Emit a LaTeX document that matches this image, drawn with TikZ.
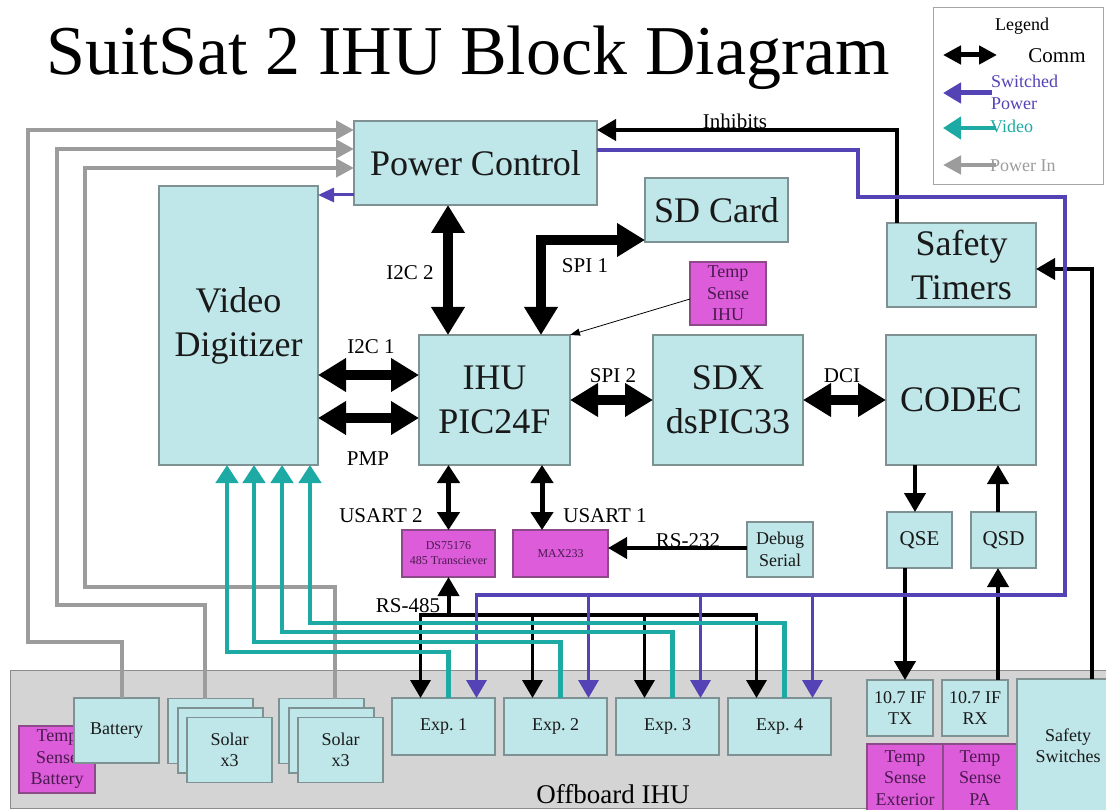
\documentclass[tikz,border=0pt]{standalone}
\usepackage{fontspec}
\setmainfont{Liberation Serif}
\usetikzlibrary{positioning, calc, arrows.meta}
\definecolor{boxfill}{HTML}{BFE6E8}
\definecolor{boxline}{HTML}{7E9294}
\definecolor{magfill}{HTML}{DC5CDA}
\definecolor{magline}{HTML}{8C4A88}
\definecolor{magtext}{HTML}{4A1A4E}
\definecolor{swpower}{HTML}{5443B5}
\definecolor{video}{HTML}{1DAAA4}
\definecolor{powerin}{HTML}{9C9C9C}
\definecolor{offboard}{HTML}{D4D4D4}
\newcommand{\fsize}[2]{\fontsize{#1}{#2}\selectfont}

\begin{document}
\begin{tikzpicture}[
    x=1pt, y=-1pt,
    wh/.style 2 args={minimum width=#1pt, minimum height=#2pt},
    block/.style={
        draw=boxline,
        fill=boxfill,
        line width=1.3pt,
        inner sep=0pt,
        outer sep=0pt,
        align=center,
        text=black!90
    },
    big/.style={block, font=\fsize{36}{44}},
    small/.style={block, font=\fsize{18}{21.5}},
    sensor/.style={small, draw=magline, fill=magfill, text=magtext},
    lbl/.style={font=\fsize{21}{24}, inner sep=0pt, anchor=base},
    lgtext/.style={font=\fsize{18}{22}, inner sep=0pt, anchor=base west},
    bigcomm/.style={line width=10pt, >={Triangle[length=28pt,width=32pt]}, <->},
    midcomm/.style={line width=5pt, >={Triangle[length=18pt,width=22pt]}, <->},
    sig/.style={line width=4pt, >={Triangle[length=19pt,width=21pt]}, ->},
    drop/.style={line width=3.5pt, >={Triangle[length=18pt,width=20pt]}, ->},
    swp/.style={drop, draw=swpower},
    vid/.style={line width=4.5pt, draw=video, >={Triangle[length=18pt,width=22pt]}, ->},
    pin/.style={line width=4.5pt, draw=powerin, >={Triangle[length=18pt,width=18pt]}, ->}
]
\fill[white] (0,0) rectangle (1106,810);
\useasboundingbox (0,0) rectangle (1106,810);

% Title and legend
\node[font=\fsize{70}{80}, anchor=base, inner sep=0pt] (title) at (468,75) {SuitSat 2 IHU Block Diagram};

\node[draw=black!35, fill=white, line width=1pt, wh={170}{177}] (legend) at (1018,96.5) {};
\node[font=\fsize{18}{22}, inner sep=0pt, anchor=base] (lgtitle) at (1022,31) {Legend};
\coordinate (lgtip) at (943,0);
\coordinate (lgcomm) at (997,55);
\coordinate (lgsw) at (992,93);
\coordinate (lgvid) at (996,128);
\coordinate (lgpin) at (996,165);
\draw[midcomm, >={Triangle[length=18pt,width=18pt]}] (lgtip |- lgcomm) -- (lgcomm);
\draw[swp, line width=5pt] (lgsw) -- (lgtip |- lgsw);
\draw[vid] (lgvid) -- (lgtip |- lgvid);
\draw[pin] (lgpin) -- (lgtip |- lgpin);
\node[font=\fsize{21}{24}, inner sep=0pt, anchor=base] (lgcommtxt) at (1057,63) {Comm};
\node[font=\fsize{18}{22}, inner sep=0pt, anchor=west, align=left, text=swpower] (lgswtxt) at (991,92) {Switched\\Power};
\node[lgtext, text=video] (lgvidtxt) at (990,133) {Video};
\node[lgtext, text=powerin] (lgpintxt) at (990,172) {Power In};

% Offboard area
\node[draw=black!45, fill=offboard, line width=1pt, wh={1110}{138}, anchor=north west] (offb) at (10,670) {};
\node[font=\fsize{27}{30}, inner sep=0pt, anchor=base] (offbtxt) at (613,803) {Offboard IHU};

\node[sensor, wh={76}{67}] (tsb) at (57,759.5) {Temp\\Sense\\Battery};
\node[small, wh={85}{65}] (bat) at (116.5,730.5) {Battery};
\foreach \n/\x in {1/210.5, 2/321.5} {
    \node[small, wh={85}{65}] (backsolar\n) at (\x,731) {};
    \node[small, wh={85}{65}] (midsolar\n) at (\x+10,740.5) {};
    \node[small, wh={85}{65}] (solar\n) at (\x+19,750) {Solar\\x3};
}
\node[small, wh={103}{57}] (exp1) at (443.5,726.5) {Exp.\ 1};
\node[small, wh={103}{57}, right=9pt of exp1] (exp2) {Exp.\ 2};
\node[small, wh={103}{57}, right=9pt of exp2] (exp3) {Exp.\ 3};
\node[small, wh={103}{57}, right=9pt of exp3] (exp4) {Exp.\ 4};
\node[small, wh={66}{56}] (txb) at (900,708) {10.7 IF\\TX};
\node[small, wh={66}{56}, right=9pt of txb] (rxb) {10.7 IF\\RX};
\node[sensor, wh={76}{68}] (tse) at (905,778) {Temp\\Sense\\Exterior};
\node[sensor, wh={74}{68}, right=0pt of tse] (tspa) {Temp\\Sense\\PA};
\node[small, wh={102}{133}] (ss) at (1068,745.5) {Safety\\Switches};

% Onboard blocks
\node[big, wh={243}{84}] (pc) at (475.5,163) {Power Control};
\node[big, wh={159}{279}] (vd) at (238.5,325.5) {Video\\Digitizer};
\node[big, wh={143}{64}] (sd) at (716.5,210) {SD Card};
\node[big, wh={149}{84}] (st) at (961.5,265) {Safety\\Timers};
\node[sensor, wh={76}{63}] (tsi) at (728,293.5) {Temp\\Sense\\IHU};
\node[big, wh={151}{130}] (ihu) at (494.5,400) {IHU\\PIC24F};
\node[big, wh={150}{130}, right=83pt of ihu] (sdx) {SDX\\dsPIC33};
\node[big, wh={150}{130}, right=83pt of sdx] (codec) {CODEC};
\node[block, font=\fsize{21}{24}, wh={65}{56}] (qse) at (919.5,540) {QSE};
\node[block, font=\fsize{21}{24}, wh={65}{56}, right=19pt of qse] (qsd) {QSD};
\node[sensor, font=\fsize{12}{15}, wh={93}{47}] (ds) at (448.5,553.5) {DS75176\\485 Transciever};
\node[sensor, font=\fsize{12}{15}, wh={95}{47}, right=18pt of ds] (max) {MAX233};
\node[small, wh={66}{55}] (dbg) at (780,549.5) {Debug\\Serial};

% Labels
\node[lbl] (linh) at (735,129) {Inhibits};
\node[lbl] (li2c2) at (410,280) {I2C 2};
\node[lbl] (lspi1) at (585,273) {SPI 1};
\node[lbl] (li2c1) at (371,353) {I2C 1};
\node[lbl] (lpmp) at (368,465) {PMP};
\node[lbl] (lspi2) at (613,382) {SPI 2};
\node[lbl] (ldci) at (842,382) {DCI};
\node[lbl] (lusart2) at (381,522) {USART 2};
\node[lbl] (lusart1) at (605,522) {USART 1};
\node[lbl] (lrs232) at (688,547) {RS-232};
\node[lbl] (lrs485) at (408,612) {RS-485};

% Power in
\draw[pin] ([xshift=5.5pt]bat.north) |- (28,642) |- (pc.west |- 0,130);
\draw[pin] ([xshift=-5.5pt]backsolar1.north) |- (57,605) |- (pc.west |- 0,149);
\draw[pin] ([xshift=13.5pt]backsolar2.north) |- (85,587) |- (pc.west |- 0,168);

% Comm
\draw[bigcomm] (pc.south -| 448,0) -- (ihu.north -| 448,0);
\draw[bigcomm] (ihu.north -| 541,0) |- (sd.west |- 0,240);
\draw[bigcomm] (vd.east |- 0,375) -- (ihu.west |- 0,375);
\draw[bigcomm] (vd.east |- 0,418) -- (ihu.west |- 0,418);
\draw[bigcomm] (ihu.east) -- (sdx.west);
\draw[bigcomm] (sdx.east) -- (codec.west);
\draw[midcomm] (ihu.south -| ds.north) -- (ds.north);
\draw[midcomm] (ihu.south -| 542,0) -- (max.north -| 542,0);
\draw[sig] (dbg.west |- 0,548) -- (max.east |- 0,548);
\draw[sig] (codec.south -| 915,0) -- (qse.north -| 915,0);
\draw[sig] (qsd.north -| 998,0) -- (codec.south -| 998,0);
\draw[sig] (qse.south -| 905,0) -- (txb.north -| 905,0);
\draw[sig] (rxb.north -| 998,0) -- (qsd.south -| 998,0);
\draw[sig] (st.north -| 897,0) |- (pc.east |- 0,130);
\draw[sig] (ss.north -| 1092,0) |- (st.east |- 0,269);
\draw[line width=0.8pt, -{Triangle[length=10pt,width=7pt]}] (tsi.west |- 0,299) -- (ihu.north east);

% RS-485 bus
\coordinate (cbus) at (448.5,615);
\draw[drop, <->] ([xshift=-23pt]exp1.north) |- ([xshift=-23pt]exp4.north |- cbus) -- ([xshift=-23pt]exp4.north);
\foreach \e in {exp2, exp3}
    \draw[drop] ([xshift=-23pt]\e.north |- cbus) -- ([xshift=-23pt]\e.north);
\draw[sig] (cbus) -- (ds.south);

% Switched power
\coordinate (pbus) at (476.5,595);
\draw[swp, line width=3pt, >={Triangle[length=16pt,width=14pt]}] (pc.west |- 0,195) -- (vd.east |- 0,195);
\draw[swp] (pc.east |- 0,150) -- (858,150) |- (1065,197) |- (pbus) -- ([xshift=33pt]exp1.north);
\foreach \e in {exp2, exp3, exp4}
    \draw[swp] ([xshift=33pt]\e.north |- pbus) -- ([xshift=33pt]\e.north);

% Video
\foreach \e/\y/\x in {exp1/652/227, exp2/642/254, exp3/632/282, exp4/623/310}
    \draw[vid] ([xshift=5pt]\e.north) |- (\x,\y) -- (vd.south -| \x,0);

\end{tikzpicture}
\end{document}
